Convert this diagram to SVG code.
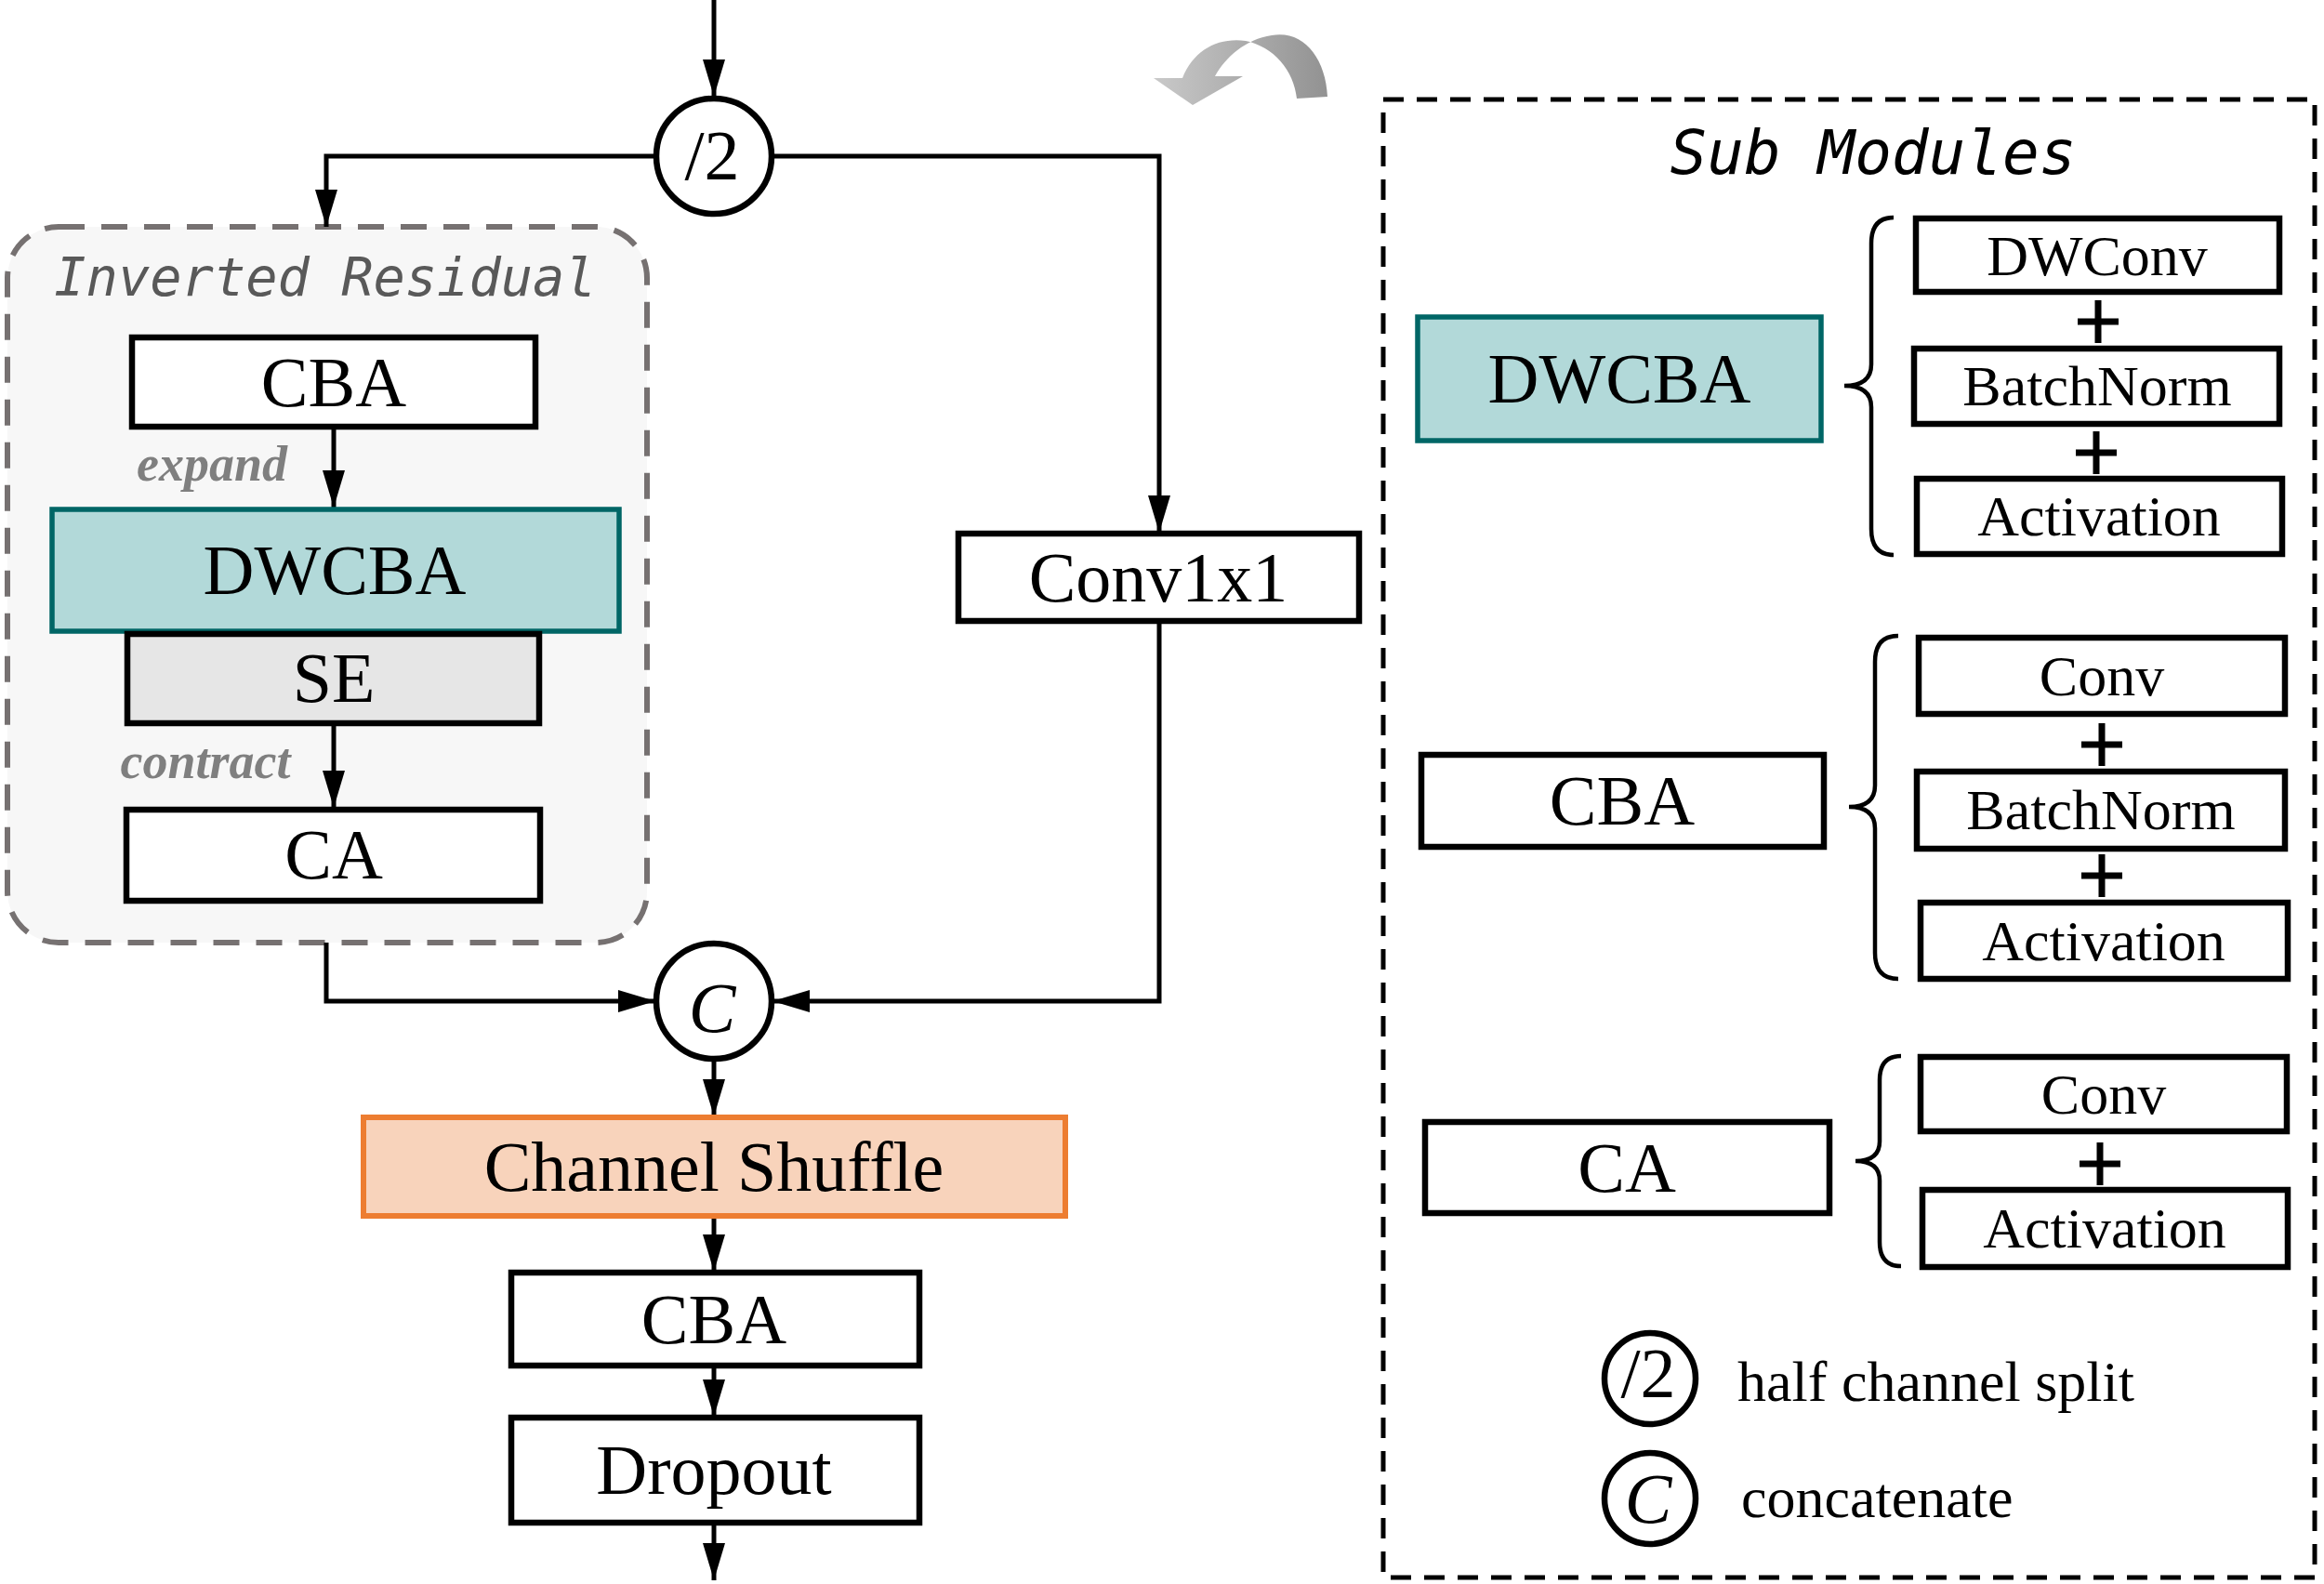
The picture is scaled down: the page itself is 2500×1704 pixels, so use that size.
<svg xmlns="http://www.w3.org/2000/svg" width="2500" height="1704" viewBox="0 0 2500 1704">
<defs>
<style>
.box{fill:#fff;stroke:#000;stroke-width:6.5}
.teal{fill:#b2d9d9;stroke:#006666;stroke-width:5.5}
.se{fill:#e6e6e6;stroke:#000;stroke-width:6.5}
.orange{fill:#f8d3bb;stroke:#ed7d31;stroke-width:6}
.t{font-family:"Liberation Serif","Times New Roman",serif;font-size:76px;text-anchor:middle;fill:#000}
.ts{font-family:"Liberation Serif","Times New Roman",serif;font-size:62px;text-anchor:middle;fill:#000}
.leg{font-family:"Liberation Serif","Times New Roman",serif;font-size:62px;text-anchor:start;fill:#000}
.lbl{font-family:"Liberation Serif","Times New Roman",serif;font-size:54px;font-style:italic;font-weight:bold;fill:#7f7f7f;text-anchor:middle}
.mono{font-family:"DejaVu Sans Mono","Liberation Mono",monospace;font-style:italic;text-anchor:middle}
.conn{fill:none;stroke:#000;stroke-width:5}
.brace{fill:none;stroke:#000;stroke-width:4.5}
.plus{stroke:#000;stroke-width:7}
.circ{fill:#fff;stroke:#000;stroke-width:6.5}
</style>
<marker id="arr" markerUnits="userSpaceOnUse" markerWidth="40" markerHeight="24" viewBox="0 0 40 24" refX="40" refY="12" orient="auto">
<path d="M0,0 L40,12 L0,24 Z" fill="#000"/>
</marker>
<linearGradient id="gg" x1="0" y1="0" x2="1" y2="0">
<stop offset="0" stop-color="#c9c9c9"/>
<stop offset="1" stop-color="#929292"/>
</linearGradient>
</defs>
<rect width="2500" height="1704" fill="#fff"/>

<g id="inverted-residual">
<rect x="8" y="244" width="688" height="770" rx="55" ry="55" fill="#f7f7f7" stroke="#767171" stroke-width="6" stroke-dasharray="28 18"/>
<text class="mono" x="350" y="318" font-size="57" fill="#595959">Inverted Residual</text>
</g>

<g id="connectors">
<path class="conn" d="M768,0 V104" marker-end="url(#arr)"/>
<path class="conn" d="M706,168 H351 V244" marker-end="url(#arr)"/>
<path class="conn" d="M830,168 H1247 V573" marker-end="url(#arr)"/>
<path class="conn" d="M359,459 V546" marker-end="url(#arr)"/>
<path class="conn" d="M359,778 V869" marker-end="url(#arr)"/>
<path class="conn" d="M351,1014 V1077 H705" marker-end="url(#arr)"/>
<path class="conn" d="M1247,668 V1077 H831" marker-end="url(#arr)"/>
<path class="conn" d="M768,1139 V1201" marker-end="url(#arr)"/>
<path class="conn" d="M768,1308 V1368" marker-end="url(#arr)"/>
<path class="conn" d="M768,1469 V1524" marker-end="url(#arr)"/>
<path class="conn" d="M768,1638 V1700" marker-end="url(#arr)"/>
</g>

<g id="split">
<circle class="circ" cx="768" cy="168" r="62"/>
<text class="t" x="766" y="193" font-size="78">/2</text>
</g>

<g id="ir-cba">
<rect class="box" x="142" y="363" width="434" height="96"/>
<text class="t" x="359" y="437">CBA</text>
</g>
<text class="lbl" x="228" y="517">expand</text>

<g id="ir-dwcba">
<rect class="teal" x="56" y="548" width="610" height="131"/>
<text class="t" x="360" y="639">DWCBA</text>
</g>

<g id="ir-se">
<rect class="se" x="137" y="682" width="443" height="96"/>
<text class="t" x="359" y="755">SE</text>
</g>
<text class="lbl" x="221" y="837">contract</text>

<g id="ir-ca">
<rect class="box" x="136" y="871" width="445" height="98"/>
<text class="t" x="359" y="945">CA</text>
</g>

<g id="conv1x1">
<rect class="box" x="1031" y="574" width="431" height="94"/>
<text class="t" x="1246" y="647">Conv1x1</text>
</g>

<g id="concat">
<circle class="circ" cx="768" cy="1077" r="62"/>
<text class="t" x="766" y="1110" font-size="96" font-style="italic">C</text>
</g>

<g id="channel-shuffle">
<rect class="orange" x="391" y="1202" width="755" height="106"/>
<text class="t" x="768" y="1281">Channel Shuffle</text>
</g>

<g id="cba-out">
<rect class="box" x="550" y="1369" width="439" height="100"/>
<text class="t" x="768" y="1445">CBA</text>
</g>

<g id="dropout">
<rect class="box" x="550" y="1525" width="439" height="113"/>
<text class="t" x="768" y="1607">Dropout</text>
</g>

<g id="flip-arrow">
<path d="M1428,104 C1426,62 1402,32 1368,38 C1340,42 1318,62 1307,82 L1337,82 L1283,113 L1241,84 L1272,84 C1284,54 1310,40 1340,44 C1370,50 1392,76 1395,106 Z" fill="url(#gg)"/>
</g>

<g id="sub-modules">
<rect x="1488" y="107" width="1002" height="1590" fill="none" stroke="#000" stroke-width="5" stroke-dasharray="22 14"/>
<text class="mono" x="2015" y="187" font-size="66" fill="#000">Sub Modules</text>
</g>

<g id="sub-dwcba">
<rect class="teal" x="1525" y="341" width="434" height="133"/>
<text class="t" x="1742" y="433">DWCBA</text>
<path class="brace" d="M2037,234 Q2013,234 2013,262 L2013,392 Q2013,415 1984,415 Q2013,415 2013,438 L2013,569 Q2013,597 2037,597"/>
<rect class="box" x="2061" y="235" width="391" height="79"/>
<text class="ts" x="2256" y="296">DWConv</text>
<path class="plus" d="M2235,346 H2279 M2257,323 V369"/>
<rect class="box" x="2059" y="375" width="393" height="81"/>
<text class="ts" x="2256" y="436">BatchNorm</text>
<path class="plus" d="M2233,487 H2277 M2255,464 V510"/>
<rect class="box" x="2062" y="515" width="393" height="81"/>
<text class="ts" x="2258" y="576">Activation</text>
</g>

<g id="sub-cba">
<rect class="box" x="1529" y="812" width="433" height="99"/>
<text class="t" x="1745" y="887">CBA</text>
<path class="brace" d="M2042,684 Q2017,684 2017,712 L2017,845 Q2017,868 1989,868 Q2017,868 2017,891 L2017,1025 Q2017,1053 2042,1053"/>
<rect class="box" x="2064" y="686" width="394" height="82"/>
<text class="ts" x="2261" y="748">Conv</text>
<path class="plus" d="M2239,801 H2283 M2261,778 V824"/>
<rect class="box" x="2062" y="830" width="396" height="83"/>
<text class="ts" x="2260" y="892">BatchNorm</text>
<path class="plus" d="M2239,942 H2283 M2261,919 V965"/>
<rect class="box" x="2066" y="971" width="395" height="82"/>
<text class="ts" x="2263" y="1033">Activation</text>
</g>

<g id="sub-ca">
<rect class="box" x="1533" y="1207" width="435" height="98"/>
<text class="t" x="1750" y="1282">CA</text>
<path class="brace" d="M2045,1136 Q2022,1136 2022,1162 L2022,1228 Q2022,1249 1996,1249 Q2022,1249 2022,1270 L2022,1336 Q2022,1362 2045,1362"/>
<rect class="box" x="2066" y="1137" width="394" height="80"/>
<text class="ts" x="2263" y="1198">Conv</text>
<path class="plus" d="M2237,1252 H2281 M2259,1229 V1275"/>
<rect class="box" x="2068" y="1280" width="393" height="83"/>
<text class="ts" x="2264" y="1342">Activation</text>
</g>

<g id="legend-split">
<circle class="circ" cx="1775" cy="1483" r="49"/>
<text class="t" x="1773" y="1503" font-size="60">/2</text>
<text class="leg" x="1869" y="1507">half channel split</text>
</g>

<g id="legend-concat">
<circle class="circ" cx="1775" cy="1612" r="49"/>
<text class="t" x="1773" y="1638" font-size="76" font-style="italic">C</text>
<text class="leg" x="1873" y="1632">concatenate</text>
</g>
</svg>
